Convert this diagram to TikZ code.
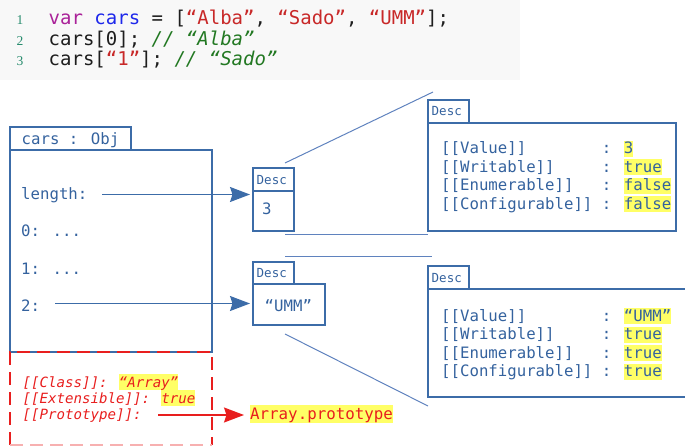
\documentclass[tikz,border=0pt]{standalone}
\usepackage{fontspec}
\newfontfamily\monofont{DejaVu Sans Mono}
\newfontfamily\numfont{Liberation Serif}
\usetikzlibrary{arrows.meta}

\definecolor{boxline}{RGB}{60,108,168}
\definecolor{boxtext}{RGB}{52,98,158}
\definecolor{thinline}{RGB}{95,130,190}
\definecolor{protored}{RGB}{232,30,30}
\definecolor{hlyellow}{RGB}{255,255,102}
\definecolor{codebg}{RGB}{248,248,248}
\definecolor{codeblack}{RGB}{30,30,30}
\definecolor{kwpurple}{RGB}{170,34,153}
\definecolor{varblue}{RGB}{30,40,235}
\definecolor{strred}{RGB}{200,40,40}
\definecolor{cmtgreen}{RGB}{34,120,34}
\definecolor{lnteal}{RGB}{40,140,110}

% yellow marker behind a value
\newcommand\hlv[1]{{\setlength\fboxsep{0pt}\colorbox{hlyellow}{\rule[-3pt]{0pt}{16pt}#1}}}
% attribute name padded to 16 monospaced cells
\newcommand\padkey[1]{\makebox[16\fontcharwd\font`0][l]{#1}}
% listing line number
\newcommand\lnum[1]{{\numfont\fontsize{13.5}{15}\selectfont #1}}

\tikzset{
  boxframe/.style={draw=boxline, line width=1.7pt, inner sep=0pt, outer sep=0pt, anchor=north west},
  tablbl/.style={anchor=base west, inner sep=0pt, text=boxtext, font=\monofont\fontsize{12.5}{14}\selectfont},
  boxlbl/.style={anchor=base west, inner sep=0pt, text=boxtext, font=\monofont\fontsize{15.7}{18}\selectfont},
  zoomline/.style={draw=thinline, line width=1pt},
  ptr/.style={draw=boxline, line width=1.5pt, shorten >=3pt,
    -{Stealth[length=20pt,width=15pt,inset=2.5pt]}},
  redptr/.style={draw=protored, line width=1.5pt, shorten >=6pt,
    -{Stealth[length=20pt,width=15pt,inset=2.5pt]}},
  reddash/.style={draw=protored, line width=1.5pt, dash pattern=on 13pt off 7pt},
  protolbl/.style={anchor=base west, inner sep=0pt, text=protored,
    font=\monofont\itshape\fontsize{14.1}{16}\selectfont},
  codeline/.style={anchor=base west, inner sep=0pt, text=codeblack,
    font=\monofont\fontsize{19}{22}\selectfont},
  lineno/.style={anchor=base, inner sep=0pt, text=lnteal},
}

\begin{document}
\begin{tikzpicture}[x=1pt,y=-1pt]
\useasboundingbox (0,0) rectangle (685,446);
\clip (0,0) rectangle (685,446);

% ---- source listing ----
\fill[codebg] (0,0) rectangle (520,80);
\node[lineno] (n1) at (20,25) {\lnum{1}};
\node[lineno] (n2) at (20,45.5) {\lnum{2}};
\node[lineno] (n3) at (20,66) {\lnum{3}};
\node[codeline] (c1) at (48.5,25) {\textcolor{kwpurple}{var} \textcolor{varblue}{cars} = [\textcolor{strred}{“Alba”}, \textcolor{strred}{“Sado”}, \textcolor{strred}{“UMM”}];};
\node[codeline] (c2) at (48.5,45.5) {cars[0]; \textcolor{cmtgreen}{\itshape // “Alba”}};
\node[codeline] (c3) at (48.5,66) {cars[\textcolor{strred}{“1”}]; \textcolor{cmtgreen}{\itshape // “Sado”}};

% ---- the array object ----
\node[boxframe, minimum width=121pt, minimum height=23pt] (objtab) at (10,127) {};
\node[boxframe, minimum width=202pt, minimum height=202pt] (objbody) at (10,150) {};
\node[boxlbl] (objname) at (21.5,145) {cars : Obj};
\node[boxlbl] (klen) at (21,200) {length:};
\node[boxlbl] (k0) at (21,237) {0: ...};
\node[boxlbl] (k1) at (21,274.5) {1: ...};
\node[boxlbl] (k2) at (21,311.5) {2:};

% internal slots
\node[inner sep=0pt, outer sep=0pt, anchor=north west, minimum width=202pt, minimum height=93pt] (proto) at (10,352) {};
\draw[reddash] (proto.south west) -- (proto.north west) -- (proto.north east) -- (proto.south east);
\draw[reddash, draw=protored!35] (proto.south west) -- (proto.south east);
\node[protolbl] (pclass) at (22.5,387) {[[Class]]: \hlv{“Array”}};
\node[protolbl] (pext) at (22.5,403) {[[Extensible]]: \hlv{true}};
\node[protolbl] (pproto) at (22.5,419) {[[Prototype]]:};
\node[anchor=base west, inner sep=0pt, fill=hlyellow, text=protored, text height=14pt, text depth=3.7pt,
  font=\monofont\fontsize{15.8}{18}\selectfont] (arrproto) at (250,419) {Array.prototype};
\coordinate (protofrom) at (158,415);
\draw[redptr] (protofrom) -- (protofrom -| arrproto.west);

% ---- small descriptors ----
\node[boxframe, minimum width=41pt, minimum height=23pt] (d1tab) at (253,168) {};
\node[boxframe, minimum width=41pt, minimum height=40pt] (d1body) at (253,191) {};
\node[tablbl] (d1name) at (256.5,185) {Desc};
\node[boxlbl] (d1val) at (262,215) {3};

\node[boxframe, minimum width=41pt, minimum height=22pt] (d2tab) at (253,262) {};
\node[boxframe, minimum width=72pt, minimum height=41pt] (d2body) at (253,284) {};
\node[tablbl] (d2name) at (256.5,278) {Desc};
\node[boxlbl] (d2val) at (264.5,311.5) {“UMM”};

\coordinate (lenfrom) at (102,194.5);
\draw[ptr] (lenfrom) -- (lenfrom -| d1body.west);
\coordinate (twofrom) at (55,303.5);
\draw[ptr] (twofrom) -- (twofrom -| d2body.west);

% ---- expanded descriptors ----
\node[boxframe, minimum width=41pt, minimum height=23pt] (D1tab) at (428,100) {};
\node[boxframe, minimum width=248pt, minimum height=108pt] (D1body) at (428,123) {};
\node[tablbl] (D1name) at (431.5,116) {Desc};
\node[boxlbl] (D1a) at (441,154) {\padkey{[[Value]]} : \hlv{3}};
\node[boxlbl] (D1b) at (441,172.5) {\padkey{[[Writable]]} : \hlv{true}};
\node[boxlbl] (D1c) at (441,191) {\padkey{[[Enumerable]]} : \hlv{false}};
\node[boxlbl] (D1d) at (441,209.5) {\padkey{[[Configurable]]} : \hlv{false}};

\node[boxframe, minimum width=41pt, minimum height=23pt] (D2tab) at (428,266) {};
\node[boxframe, minimum width=270pt, minimum height=108pt] (D2body) at (428,289) {};
\node[tablbl] (D2name) at (431.5,283) {Desc};
\node[boxlbl] (D2a) at (441,321) {\padkey{[[Value]]} : \hlv{“UMM”}};
\node[boxlbl] (D2b) at (441,339.5) {\padkey{[[Writable]]} : \hlv{true}};
\node[boxlbl] (D2c) at (441,358) {\padkey{[[Enumerable]]} : \hlv{true}};
\node[boxlbl] (D2d) at (441,376.5) {\padkey{[[Configurable]]} : \hlv{true}};

% ---- zoom guide lines ----
\coordinate (za1) at (285,163);   \coordinate (za2) at (433,92);
\coordinate (zb1) at (285,234.5); \coordinate (zb2) at (428,234.5);
\coordinate (zc1) at (285,257);   \coordinate (zc2) at (432,257);
\coordinate (zd1) at (285,334);   \coordinate (zd2) at (428,406);
\draw[zoomline] (za1) -- (za2);
\draw[zoomline] (zb1) -- (zb2);
\draw[zoomline] (zc1) -- (zc2);
\draw[zoomline] (zd1) -- (zd2);
\end{tikzpicture}
\end{document}
